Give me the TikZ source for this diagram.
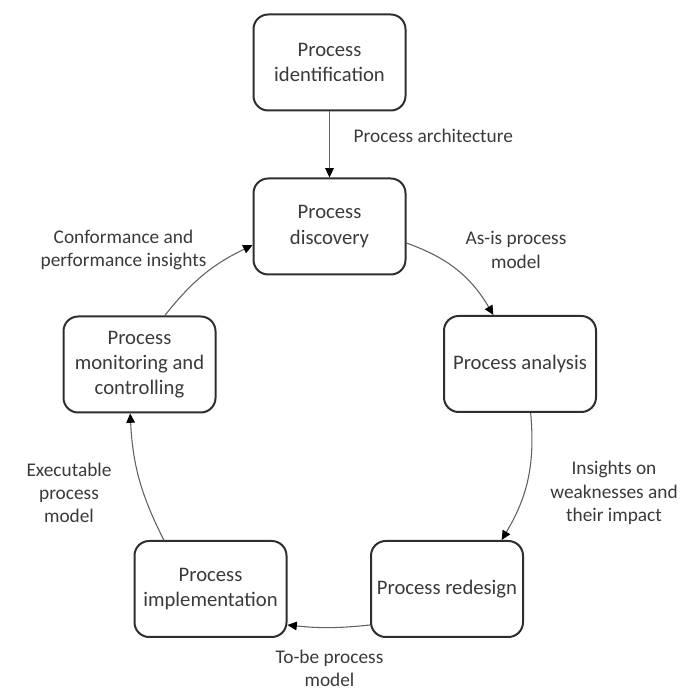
\documentclass[tikz,border=0pt]{standalone}
\usepackage{fontspec}
\setmainfont{Carlito}
\usetikzlibrary{arrows.meta}
\definecolor{txt}{HTML}{3A3A3A}
\definecolor{edge}{HTML}{2E2E2E}
\definecolor{conn}{HTML}{606060}
\begin{document}
\begin{tikzpicture}[x=0.75pt,y=0.75pt,
  procbox/.style={draw=edge,line width=1.5pt,rounded corners=11pt,
    minimum width=114pt,minimum height=72pt,inner sep=0pt,align=center,
    text=txt,font=\fontsize{15.5}{19}\selectfont},
  lbl/.style={text=txt,align=center,font=\fontsize{14.5}{17.4}\selectfont},
  flow/.style={draw=conn,line width=0.8pt,
    -{Triangle[length=7pt,width=6.5pt,fill=black,color=black]}}]
\useasboundingbox (0,0) rectangle (681,693);
\node[procbox] (ident) at (329.5,630.5) {Process\\identification};
\node[procbox] (disc)  at (329.5,466.5) {Process\\discovery};
\node[procbox] (anal)  at (520,329) {Process analysis};
\node[procbox] (red)   at (447,104) {Process redesign};
\node[procbox] (impl)  at (210.5,104) {Process\\implementation};
\node[procbox] (mon)   at (139.5,328.5) {Process\\monitoring and\\controlling};

\node[lbl,anchor=west] (l1) at (349,557) {Process architecture};
\node[lbl] (l2) at (516,443) {As-is process\\model};
\node[lbl] (l3) at (614,200) {Insights on\\weaknesses and\\their impact};
\node[lbl] (l4) at (329.5,25) {To-be process\\model};
\node[lbl] (l5) at (69,200) {Executable\\process\\model};
\node[lbl] (l6) at (123.5,443) {Conformance and\\performance insights};

\draw[flow] (ident.south) -- (disc.north);
\draw[flow] ([yshift=-12.4pt]disc.east) to[bend left=20] ([xshift=-20pt]anal.north);
\draw[flow] ([xshift=8pt]anal.south) to[bend left=18] ([xshift=41pt]red.north);
\draw[flow] ([yshift=-27pt]red.west) to[bend left=6] ([yshift=-27pt]impl.east);
\draw[flow] ([xshift=-35pt]impl.north) to[bend left=12] ([xshift=-7pt]mon.south);
\draw[flow] ([xshift=19pt]mon.north) to[bend left=13] ([yshift=-14pt]disc.west);
\end{tikzpicture}
\end{document}
